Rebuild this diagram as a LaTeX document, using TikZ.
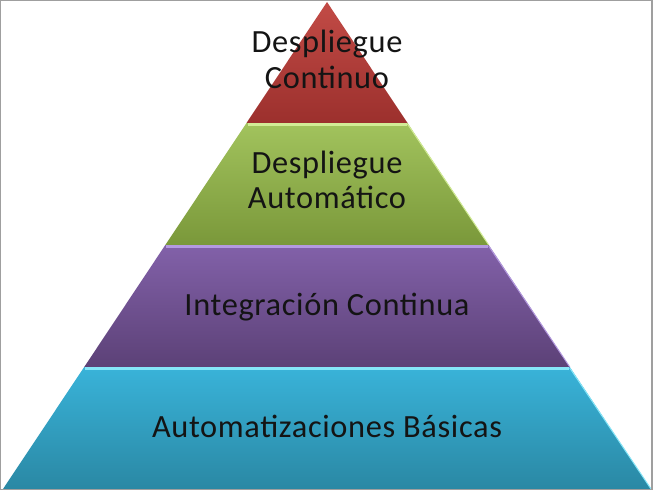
\documentclass[tikz,border=0pt]{standalone}
\usepackage{fontspec}
\setmainfont{Carlito}[LetterSpace=2]
\definecolor{redT}{HTML}{C24B46}
\definecolor{redB}{HTML}{9C302D}
\definecolor{grnT}{HTML}{A2C35D}
\definecolor{grnB}{HTML}{7A983A}
\definecolor{grnH}{HTML}{D2EC96}
\definecolor{purT}{HTML}{8261A9}
\definecolor{purB}{HTML}{5C4177}
\definecolor{purH}{HTML}{B49AE0}
\definecolor{bluT}{HTML}{39B3D9}
\definecolor{bluB}{HTML}{2A88A4}
\definecolor{bluH}{HTML}{86E6F8}
\definecolor{txt}{HTML}{141414}
\tikzset{
  lbl/.style={anchor=base, inner sep=0pt, text=txt, font=\fontsize{32.5}{35}\selectfont},
  hl/.style={line width=2.5bp},
  edgehl/.style={line width=1bp}
}
\begin{document}
\begin{tikzpicture}[x=1bp,y=-1bp]
\useasboundingbox (0,0) rectangle (654,491);
\fill[white] (0,0) rectangle (654,491);
% layers
\shade[top color=bluT, bottom color=bluB] (84.2,367) -- (569.8,367) -- (651,489) -- (3,489) -- cycle;
\shade[top color=purT, bottom color=purB] (165.3,245) -- (488.7,245) -- (569.8,367) -- (84.2,367) -- cycle;
\shade[top color=grnT, bottom color=grnB] (246.5,123) -- (407.5,123) -- (488.7,245) -- (165.3,245) -- cycle;
\shade[top color=redT, bottom color=redB] (327,2) -- (407.5,123) -- (246.5,123) -- cycle;
% highlights
\draw[grnH, hl] (247.5,124.3) -- (406.7,124.3);
\draw[grnH, edgehl] (407.5,124) -- (488.7,245);
\draw[purH, hl] (166.3,246.3) -- (487.9,246.3);
\draw[purH, edgehl] (488.7,246) -- (569.8,367);
\draw[bluH, hl] (85.2,368.3) -- (569,368.3);
\draw[bluH, edgehl] (569.8,368) -- (651,489);
% frame
\draw[gray!75, line width=1.3bp] (0.65,0.65) rectangle (652,489.3);
% labels
\node[lbl] (r1) at (327,52.5) {Despliegue};
\node[lbl] (r2) at (327,88.5) {Continuo};
\node[lbl] (g1) at (327,173.5) {Despliegue};
\node[lbl] (g2) at (327,209) {Automático};
\node[lbl] (p1) at (327,315.5) {Integración Continua};
\node[lbl] (b1) at (327,437.5) {Automatizaciones Básicas};
\end{tikzpicture}
\end{document}
